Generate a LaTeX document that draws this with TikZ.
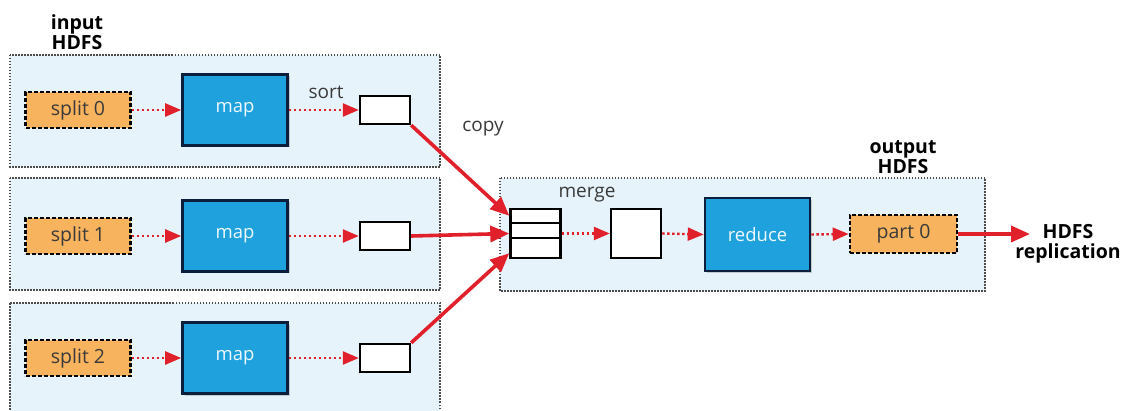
\documentclass[tikz,border=0pt]{standalone}
\usepackage{fontspec}
\setmainfont{Open Sans}
\usetikzlibrary{arrows.meta,positioning,shadows}
\definecolor{zone}{HTML}{E6F3FB}
\definecolor{mapblue}{HTML}{1FA1DD}
\definecolor{navy}{HTML}{0B1E3C}
\definecolor{splitorange}{HTML}{F8B35E}
\definecolor{flowred}{HTML}{E0202A}
\definecolor{txt}{HTML}{3A3A3A}
\tikzset{
  zonebox/.style={draw=black!70, fill=zone, dash pattern=on 1.5pt off 1.5pt, line width=1.3pt},
  splitbox/.style={draw=black, fill=splitorange, dash pattern=on 4pt off 2pt, line width=2.6pt,
    minimum width=105pt, minimum height=36pt, inner sep=0pt,
    font=\fontsize{19.5}{20}\selectfont, text=txt},
  mapbox/.style={draw=navy, fill=mapblue, line width=2.6pt,
    minimum width=105pt, minimum height=71pt, inner sep=0pt,
    font=\fontsize{18.5}{19}\selectfont, text=white!92!mapblue,
    drop shadow={shadow xshift=2pt, shadow yshift=-2pt, opacity=0.35}},
  bufbox/.style={draw=black, fill=white, line width=2.4pt,
    minimum width=50pt, minimum height=28pt, inner sep=0pt},
  bigbuf/.style={draw=black, fill=white, line width=2.4pt,
    minimum width=50pt, minimum height=49pt, inner sep=0pt},
  dotarrow/.style={draw=flowred, line width=2.4pt, dash pattern=on 2.5pt off 2.5pt,
    -{Triangle[length=16pt,width=13pt]}},
  solidarrow/.style={draw=flowred, line width=3.6pt,
    -{Triangle[length=19pt,width=16pt]}},
  lbl/.style={font=\fontsize{19}{19}\selectfont, text=txt, inner sep=1pt},
  title/.style={font=\bfseries\fontsize{19.5}{20}\selectfont, text=black,
    align=center, inner sep=0pt}
}
\begin{document}
\begin{tikzpicture}[x=1pt, y=-1pt]
\useasboundingbox (0,0) rectangle (1123,411);
\clip (0,0) rectangle (1123,411);

% zones
\draw[zonebox] (10,55) rectangle (440,167);
\draw[zonebox] (10,178) rectangle (440,290);
\draw[zonebox] (10,303) rectangle (440,420);
\draw[zonebox] (500,178) rectangle (985,291);

% titles
\node[title] (inlbl) at (77,32) {input\\HDFS};
\node[title] (outlbl) at (903,157) {output\\HDFS};
\node[title] (repl) at (1068,244) {HDFS\\replication};

% map rows
\foreach \i/\y in {0/110, 1/236, 2/358} {
  \node[splitbox] (split\i) at (78,\y) {split \i};
  \node[mapbox] (map\i) at (235,\y) {map};
  \node[bufbox] (buf\i) at (385,\y) {};
  \draw[dotarrow] (split\i.east) -- (map\i.west);
  \draw[dotarrow] (map\i.east) -- (buf\i.west);
}
\node[lbl] (sortlbl) at (326,92) {sort};
\node[lbl] (copylbl) at (483,129) {copy};

% reduce side
\node[bigbuf] (stack) at (535.5,233.5) {};
\draw[line width=2.2pt] ([yshift=-15pt]stack.north west) -- ([yshift=-15pt]stack.north east);
\draw[line width=2.2pt] ([yshift=-30pt]stack.north west) -- ([yshift=-30pt]stack.north east);
\node[lbl] (mergelbl) at (587,195) {merge};
\node[bigbuf] (merged) at (636,233.5) {};
\node[mapbox, minimum height=73pt] (reduce) at (757.5,234.5) {reduce};
\node[splitbox, minimum width=107pt, minimum height=38pt] (part0) at (903.5,234) {part 0};
\coordinate (hdfs) at (1030,234);

% copy phase
\draw[solidarrow] (buf0.south east) -- ([yshift=-8pt]stack.north west);
\draw[solidarrow] (buf1.east) -- (stack.west);
\draw[solidarrow] (buf2.north east) -- ([yshift=6pt]stack.south west);

% merge and reduce
\draw[dotarrow] (stack.east) -- (merged.west);
\draw[dotarrow] (merged.east) -- (reduce.west);
\draw[dotarrow] (reduce.east) -- (part0.west);
\draw[solidarrow] (part0.east) -- (hdfs);
\end{tikzpicture}
\end{document}
